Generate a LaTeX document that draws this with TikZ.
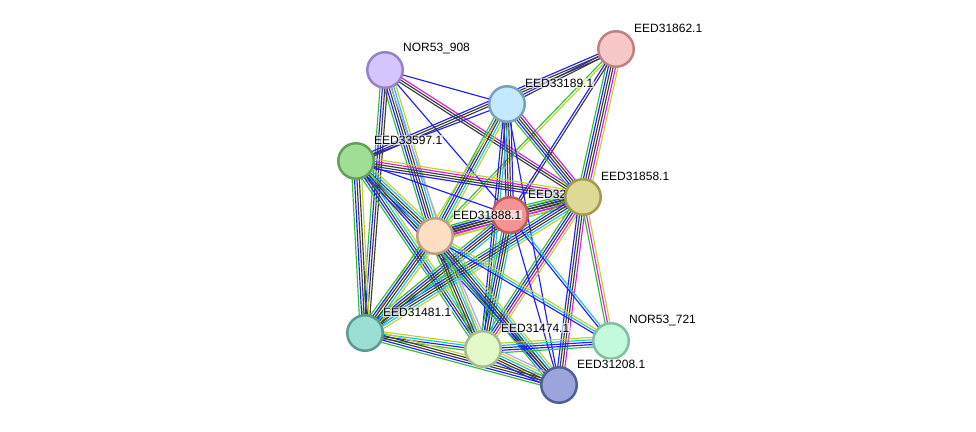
\documentclass[tikz,border=0pt]{standalone}
\usepackage{fontspec}
\setmainfont{Liberation Sans}
\usetikzlibrary{calc}

% strand colours
\definecolor{sgreen}{RGB}{50,190,50}
\definecolor{sblue}{RGB}{30,30,255}
\definecolor{sblack}{RGB}{60,60,60}
\definecolor{smag}{RGB}{220,30,220}
\definecolor{scyan}{RGB}{30,190,220}
\definecolor{syel}{RGB}{190,210,40}
\definecolor{slav}{RGB}{165,165,255}

\pgfdeclarelayer{background}
\pgfsetlayers{background,main}

\tikzset{
  prot/.style={circle, line width=2.5pt, minimum size=35.5pt, inner sep=0pt, outer sep=0pt},
  lbl/.style={anchor=west, inner sep=0.6pt, fill=white, fill opacity=0.65, text opacity=1,
    font=\fontsize{12}{14}\selectfont},
  strand/.style={line width=1.15pt}
}

% one bundle of parallel strands between two proteins
\newcommand{\bundle}[3]{%
  \foreach \c [count=\i] in {#3} {\xdef\nstr{\i}}%
  \foreach \c [count=\i] in {#3} {%
    \pgfmathsetmacro{\off}{(\i-(\nstr+1)/2)*2.4}%
    \draw[strand, draw=\c] ($(#1.center)!\off pt!90:(#2.center)$) -- ($(#2.center)!\off pt!-90:(#1.center)$);
  }}

\begin{document}
\begin{tikzpicture}[x=1pt, y=-1pt]
    \useasboundingbox (0,0) rectangle (976,431);

    % Proteins
    \node[prot, fill={rgb,255:red,212;green,196;blue,255}, draw={rgb,255:red,150;green,130;blue,200}] (n908) at (385,70) {};
    \node[lbl] (l908) at ([shift={(17.4,-21)}]n908.center) {NOR53\_908};
    \node[prot, fill={rgb,255:red,248;green,200;blue,200}, draw={rgb,255:red,190;green,130;blue,130}] (n862) at (616,49) {};
    \node[lbl] (l862) at ([shift={(17.4,-21)}]n862.center) {EED31862.1};
    \node[prot, fill={rgb,255:red,196;green,232;blue,252}, draw={rgb,255:red,120;green,162;blue,192}] (n189) at (507,104) {};
    \node[lbl] (l189) at ([shift={(17.4,-21)}]n189.center) {EED33189.1};
    \node[prot, fill={rgb,255:red,160;green,222;blue,150}, draw={rgb,255:red,100;green,160;blue,90}] (n597) at (356,161) {};
    \node[lbl] (l597) at ([shift={(17.4,-21)}]n597.center) {EED33597.1};
    \node[prot, fill={rgb,255:red,246;green,146;blue,146}, draw={rgb,255:red,190;green,90;blue,90}] (n32) at (510,215) {};
    \node[lbl] (l32) at ([shift={(17.4,-21)}]n32.center) {EED32};
    \node[prot, fill={rgb,255:red,222;green,218;blue,150}, draw={rgb,255:red,160;green,155;blue,80}] (n858) at (583,197) {};
    \node[lbl] (l858) at ([shift={(17.4,-21)}]n858.center) {EED31858.1};
    \node[prot, fill={rgb,255:red,255;green,223;blue,196}, draw={rgb,255:red,190;green,160;blue,130}] (n888) at (435,236) {};
    \node[lbl] (l888) at ([shift={(17.4,-21)}]n888.center) {EED31888.1};
    \node[prot, fill={rgb,255:red,155;green,222;blue,212}, draw={rgb,255:red,90;green,155;blue,145}] (n481) at (365,333) {};
    \node[lbl] (l481) at ([shift={(17.4,-21)}]n481.center) {EED31481.1};
    \node[prot, fill={rgb,255:red,226;green,250;blue,200}, draw={rgb,255:red,165;green,190;blue,140}] (n474) at (483,349) {};
    \node[lbl] (l474) at ([shift={(17.4,-21)}]n474.center) {EED31474.1};
    \node[prot, fill={rgb,255:red,196;green,250;blue,220}, draw={rgb,255:red,130;green,190;blue,160}] (n721) at (611,341) {};
    \node[lbl] (l721) at ([shift={(17.4,-21)}]n721.center) {NOR53\_721};
    \node[prot, fill={rgb,255:red,155;green,165;blue,220}, draw={rgb,255:red,80;green,95;blue,150}] (n208) at (559,385) {};
    \node[lbl] (l208) at ([shift={(17.4,-21)}]n208.center) {EED31208.1};

    % Interactions
    \begin{pgfonlayer}{background}
      \bundle{n908}{n189}{sblue}
      \bundle{n908}{n32}{sblue}
      \bundle{n908}{n858}{sblack,sblack,smag}
      \bundle{n908}{n888}{sgreen,sblue,sblack,sblack,scyan,syel}
      \bundle{n908}{n481}{sgreen,sblue,sblack,sblack}
      \bundle{n908}{n474}{slav}
      \bundle{n862}{n189}{sblue,sblack}
      \bundle{n862}{n597}{sblue,sblack,sblack}
      \bundle{n862}{n858}{sgreen,sblue,sblack,sblack,smag,syel}
      \bundle{n862}{n888}{sgreen,syel}
      \bundle{n862}{n32}{sblue,sblack}
      \bundle{n189}{n597}{sblue}
      \bundle{n189}{n858}{sgreen,sblue,sblack,sblack,smag}
      \bundle{n189}{n32}{sblue,sblack,sblack,sblue}
      \bundle{n189}{n888}{sgreen,sblue,sblack,scyan,syel}
      \bundle{n189}{n474}{sblue,sblack,scyan}
      \bundle{n189}{n208}{sblue}
      \bundle{n189}{n481}{syel}
      \bundle{n597}{n858}{sblue,sblack,sblack,smag,syel}
      \bundle{n597}{n32}{sblue}
      \bundle{n597}{n888}{sgreen,sblue,sblack,sblack,scyan,syel}
      \bundle{n597}{n481}{sgreen,sblue,sblack,sblack,syel}
      \bundle{n597}{n474}{sgreen,sblue,sblack,scyan,syel}
      \bundle{n597}{n208}{sblue,sblack,scyan}
      \bundle{n858}{n32}{sgreen,sblue,sblack,sblack,smag,scyan}
      \bundle{n858}{n888}{sgreen,sblack,sblack,smag,syel}
      \bundle{n858}{n481}{sgreen,sblue,sblack,sblack,scyan,syel}
      \bundle{n858}{n474}{sgreen,sblue,sblack,smag,syel}
      \bundle{n858}{n208}{sblue,sblack,sblack,smag}
      \bundle{n858}{n721}{sgreen,smag,syel}
      \bundle{n32}{n888}{sgreen,sblue,sblack,sblack,smag,syel}
      \bundle{n32}{n481}{sgreen,sblue,sblack,sblack,scyan}
      \bundle{n32}{n474}{sgreen,sblue,sblack,sblack,scyan}
      \bundle{n32}{n208}{sblue}
      \bundle{n32}{n721}{sblue,scyan}
      \bundle{n888}{n481}{sgreen,sblue,sblack,sblack,scyan,syel}
      \bundle{n888}{n474}{sgreen,sblack,sblack,scyan,syel,slav}
      \bundle{n888}{n208}{sgreen,sblue,sblack,sblack,scyan,syel}
      \bundle{n888}{n721}{sblue,scyan,syel}
      \bundle{n481}{n474}{sgreen,sblue,scyan,syel}
      \bundle{n481}{n208}{sgreen,sblue,sblack,sblack,syel}
      \bundle{n474}{n721}{sgreen,sblue,sblue,scyan,syel}
      \bundle{n474}{n208}{sblue,sblack,sblack,scyan,syel,slav}
    \end{pgfonlayer}
\end{tikzpicture}
\end{document}
